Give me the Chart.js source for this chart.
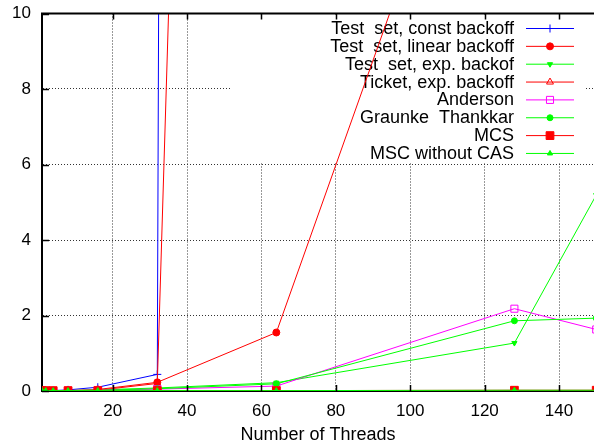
<!DOCTYPE html>
<html>
<head>
<meta charset="utf-8">
<script src="https://cdn.jsdelivr.net/npm/chart.js@4/dist/chart.umd.min.js"></script>
<style>
  html, body { margin: 0; padding: 0; background: #fff; }
  #wrap { width: 594px; height: 446px; }
</style>
</head>
<body>
<div id="wrap"><canvas id="chart" width="594" height="446"></canvas></div>
<script>
// thread counts on the x axis
const threads = [1, 2, 4, 8, 16, 32, 64, 128, 150];

// run times per lock (big ones run off the top)
const constBackoff  = [0, 0, 0.01, 0.03, 0.1, 0.44, 2000, null, null];
const linearBackoff = [0, 0, 0, 0.01, 0.04, 0.23, 1.55, 19.3, null];
const expBackoff    = [0, 0, 0, 0.01, 0.03, 0.08, 0.22, 1.27, 5.19];
const ticketExp     = [0, 0, 0, 0.01, 0.02, 0.2, 104, null, null];
const anderson      = [0, 0, 0, 0.01, 0.02, 0.05, 0.13, 2.18, 1.63];
const graunke       = [0, 0, 0, 0.01, 0.02, 0.06, 0.19, 1.86, 1.93];
const mcs           = [0.01, 0.01, 0.01, 0.01, 0.01, 0.01, 0.01, 0.02, 0.02];
const mscNoCas      = [0.01, 0.01, 0.01, 0.01, 0.01, 0.01, 0.01, 0.02, 0.02];

const xTicks = [20, 40, 60, 80, 100, 120, 140];
const yTicks = [0, 2, 4, 6, 8, 10];
// the original plot is cut off a hair before x = 150
const xMin = 1, xMax = 149.4;

const FONT = '"Liberation Sans", Arial, sans-serif';

function pts(arr) {
    return threads.map((t, i) => ({ x: t, y: arr[i] }));
}

function series(label, values, color, style, radius, filled, rotation) {
    return {
        label: label,
        data: pts(values),
        borderColor: color,
        borderWidth: 1,
        pointStyle: style,
        pointRadius: radius,
        pointRotation: rotation || 0,
        pointBorderColor: color,
        pointBackgroundColor: filled ? color : 'rgba(0,0,0,0)',
        pointBorderWidth: 1,
        tension: 0,
        fill: false,
        spanGaps: false
    };
}

const datasets = [
    series('Test  set, const backoff', constBackoff, '#0000ff', 'cross', 4, false),
    series('Test  set, linear backoff', linearBackoff, '#ff0000', 'circle', 3.5, true),
    series('Test  set, exp. backof', expBackoff, '#00ff00', 'triangle', 3, true, 180),
    series('Ticket, exp. backoff', ticketExp, '#ff0000', 'triangle', 4, false),
    series('Anderson', anderson, '#ff00ff', 'rect', 5, false),
    series('Graunke  Thankkar', graunke, '#00ff00', 'circle', 3, true),
    series('MCS', mcs, '#ff0000', 'rect', 5.5, true),
    series('MSC without CAS', mscNoCas, '#00ff00', 'triangle', 3, true)
];
// later series drawn on top, like gnuplot
datasets.forEach((d, i) => { d.order = -i; });

// key: white box top right, text right aligned, sample on the right
const keyBox = {
    id: 'keyBox',
    beforeDatasetsDraw(chart) {
        const ctx = chart.ctx;
        ctx.save();
        ctx.fillStyle = '#fff';
        ctx.fillRect(232, 15, 354, 148);
        ctx.font = '18px ' + FONT;
        ctx.textAlign = 'right';
        ctx.textBaseline = 'middle';
        chart.data.datasets.forEach((ds, i) => {
            const y = 28.5 + i * 17.85;
            ctx.fillStyle = '#000';
            ctx.fillText(ds.label, 514, y + 0.5);
            ctx.strokeStyle = ds.borderColor;
            ctx.lineWidth = 1;
            ctx.beginPath();
            ctx.moveTo(526, y);
            ctx.lineTo(574, y);
            ctx.stroke();
            ctx.fillStyle = ds.pointBackgroundColor;
            ctx.strokeStyle = ds.pointBorderColor;
            ctx.lineWidth = ds.pointBorderWidth;
            Chart.helpers.drawPoint(ctx, {
                pointStyle: ds.pointStyle,
                radius: ds.pointRadius,
                rotation: ds.pointRotation,
                borderWidth: ds.pointBorderWidth
            }, 550, y);
        });
        ctx.restore();
    }
};

// top border and inward tick marks (gnuplot style)
const frame = {
    id: 'frame',
    afterDraw(chart) {
        const ctx = chart.ctx;
        const a = chart.chartArea;
        const xs = chart.scales.x, ys = chart.scales.y;
        ctx.save();
        ctx.strokeStyle = '#000';
        ctx.lineWidth = 2;
        ctx.beginPath();
        ctx.moveTo(a.left - 1, a.top);
        ctx.lineTo(a.right, a.top);
        ctx.stroke();
        ctx.lineWidth = 1.5;
        ctx.beginPath();
        xTicks.forEach(v => {
            const x = Math.round(xs.getPixelForValue(v)) + 0.5;
            ctx.moveTo(x, a.bottom); ctx.lineTo(x, a.bottom - 6);
            ctx.moveTo(x, a.top); ctx.lineTo(x, a.top + 6);
        });
        yTicks.forEach(v => {
            const y = Math.round(ys.getPixelForValue(v)) + 0.5;
            ctx.moveTo(a.left, y); ctx.lineTo(a.left + 7, y);
        });
        ctx.stroke();
        ctx.restore();
    }
};

// keep the plot box where it is, labels may hang over the edges
function noEdgePadding(s) {
    s.paddingTop = 0;
    s.paddingBottom = 0;
    s.paddingLeft = 0;
    s.paddingRight = 0;
}

new Chart(document.getElementById('chart'), {
    type: 'line',
    data: { datasets: datasets },
    options: {
        responsive: false,
        animation: false,
        layout: { autoPadding: false, padding: { top: 13.5, right: 0, left: 0, bottom: 0 } },
        plugins: { legend: { display: false }, tooltip: { enabled: false } },
        scales: {
            x: {
                type: 'linear',
                min: xMin,
                max: xMax,
                afterBuildTicks: s => { s.ticks = xTicks.map(v => ({ value: v })); },
                afterFit: s => { s.height = 55; noEdgePadding(s); },
                grid: { color: '#333', lineWidth: 1, drawTicks: false },
                border: { display: true, color: '#000', width: 2, dash: [1, 2] },
                ticks: { color: '#000', font: { size: 17, family: FONT }, padding: 10, maxRotation: 0, autoSkip: false },
                title: { display: true, text: 'Number of Threads', color: '#000', font: { size: 18, family: FONT }, padding: { top: 0, bottom: 0 } }
            },
            y: {
                min: 0,
                max: 10,
                afterBuildTicks: s => { s.ticks = yTicks.map(v => ({ value: v })); },
                afterFit: s => { s.width = 42; noEdgePadding(s); },
                grid: { color: '#333', lineWidth: 1, drawTicks: false },
                border: { display: true, color: '#000', width: 2, dash: [1, 2] },
                ticks: { color: '#000', font: { size: 17, family: FONT }, padding: 11 }
            }
        }
    },
    plugins: [keyBox, frame]
});
</script>
</body>
</html>
